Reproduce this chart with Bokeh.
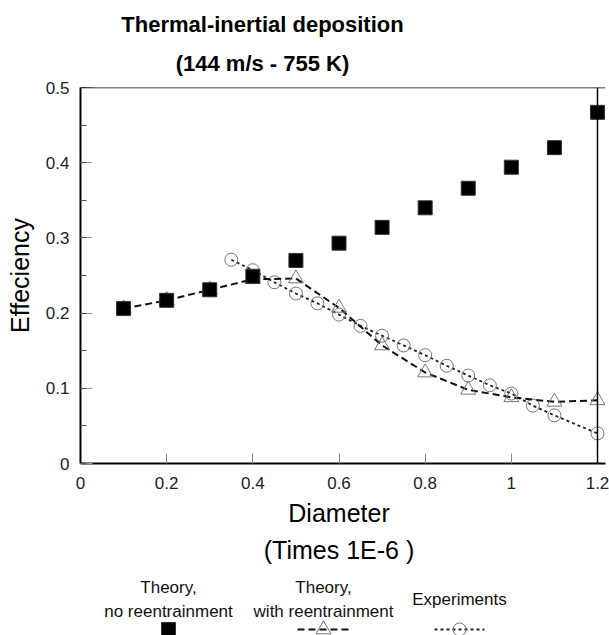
from bokeh.plotting import figure
from bokeh.layouts import column
from bokeh.models import Range1d, SingleIntervalTicker, CustomJSTickFormatter, Span, Label
from bokeh.embed import file_html
from bokeh.resources import INLINE

# ---------------- data ----------------
diam_theory = [0.1, 0.2, 0.3, 0.4, 0.5, 0.6, 0.7, 0.8, 0.9, 1.0, 1.1, 1.2]
eff_no_reent = [0.206, 0.217, 0.231, 0.249, 0.270, 0.293, 0.314, 0.340, 0.366, 0.394, 0.420, 0.467]
eff_reent = [0.206, 0.217, 0.231, 0.245, 0.246, 0.207, 0.157, 0.121, 0.098, 0.088, 0.082, 0.084]
diam_exp = [0.35, 0.40, 0.45, 0.50, 0.55, 0.60, 0.65, 0.70, 0.75, 0.80, 0.85, 0.90, 0.95, 1.00, 1.05, 1.10, 1.20]
eff_exp = [0.271, 0.257, 0.241, 0.226, 0.213, 0.198, 0.183, 0.170, 0.157, 0.144, 0.130, 0.117, 0.104, 0.093, 0.077, 0.064, 0.040]

title_lines = ["Thermal-inertial deposition", "(144 m/s - 755 K)"]
x_label_lines = ["Diameter", "(Times 1E-6 )"]
y_label = "Effeciency"
legend_names = [("Theory,", "no reentrainment"), ("Theory,", "with reentrainment"), ("Experiments",)]

FONT = "Liberation Sans"
W = 609
H0, H1, H2 = 78, 417, 140   # header / plot / footer heights (sum 635)

# frame geometry (pixels)
FL, FR_TICK, FT, FB = 80, 597, 87, 463
RB = 4                       # right border of the canvas beyond the frame
px_per_x = (FR_TICK - FL) / 1.2
x_end = (W - RB - FL) / px_per_x

# ---------------- header ----------------
def strip(height):
    f = figure(width=W, height=height, output_backend="svg", toolbar_location=None, title=None,
               x_range=Range1d(FL, W - RB), y_range=Range1d(height, 0),
               min_border=0, min_border_left=FL, min_border_right=RB,
               min_border_top=0, min_border_bottom=0)
    f.axis.visible = False
    f.grid.visible = False
    f.outline_line_color = None
    f.background_fill_color = "white"
    f.border_fill_color = "white"
    return f

head = strip(H0)
for txt, mid in zip(title_lines, (24, 63)):
    head.add_layout(Label(x=262, y=mid, text=txt, text_align="center", text_baseline="middle",
                          text_font=FONT, text_font_size="22px", text_font_style="bold",
                          text_color="black"))

# ---------------- main plot ----------------
p = figure(width=W, height=H1, output_backend="svg", toolbar_location=None, title=None,
           x_range=Range1d(0, x_end), y_range=Range1d(0, 0.5),
           min_border_left=FL, min_border_right=RB, min_border_top=FT - H0,
           min_border_bottom=H0 + H1 - FB)
p.background_fill_color = "white"
p.border_fill_color = "white"
p.outline_line_color = None
p.grid.visible = False

fmt = CustomJSTickFormatter(code="return String(Math.round(tick*100)/100);")
p.xaxis.ticker = SingleIntervalTicker(interval=0.2, num_minor_ticks=0)
p.yaxis.ticker = SingleIntervalTicker(interval=0.1, num_minor_ticks=2)
p.xaxis.formatter = fmt
p.yaxis.formatter = fmt
for ax in (p.xaxis, p.yaxis):
    ax.axis_line_color = "black"
    ax.axis_line_width = 2
    ax.major_tick_out = 0
    ax.minor_tick_out = 0
    ax.major_label_text_font = FONT
    ax.major_label_text_font_size = "17px"
    ax.major_label_text_color = "#222222"
p.xaxis.major_tick_in = 10
p.xaxis.major_tick_line_color = "#888888"
p.yaxis.major_tick_in = 12
p.yaxis.major_tick_line_color = "#999999"
p.yaxis.minor_tick_in = 6
p.yaxis.minor_tick_line_color = "#555555"
p.yaxis.major_label_standoff = 11
p.xaxis.major_label_standoff = 13
p.yaxis.axis_label = y_label
p.yaxis.axis_label_text_font = FONT
p.yaxis.axis_label_text_font_size = "25px"
p.yaxis.axis_label_text_font_style = "normal"
p.yaxis.axis_label_text_color = "black"
p.yaxis.axis_label_standoff = 9

# top and right frame borders
p.add_layout(Span(location=0.5, dimension="width", line_color="black", line_width=1.5))
p.add_layout(Span(location=1.2, dimension="height", line_color="black", line_width=1.5))

# series
p.line(diam_exp, eff_exp, line_color="#222222", line_width=1.8, line_dash="3 3")
p.scatter(diam_exp, eff_exp, marker="circle", size=13, fill_color=None,
          line_color="#777777", line_width=1)
p.line(diam_theory, eff_reent, line_color="#111111", line_width=2, line_dash="7 4")
p.scatter(diam_theory, eff_reent, marker="triangle", size=15, fill_color=None,
          line_color="#777777", line_width=1)
p.scatter(diam_theory, eff_no_reent, marker="square", size=14, fill_color="black",
          line_color="#333333", line_width=1)

# ---------------- footer: x label + legend ----------------
foot = strip(H2)
off = H0 + H1
def fy(img_y):
    return img_y - off

for txt, mid in zip(x_label_lines, (512, 549)):
    foot.add_layout(Label(x=338.5, y=fy(mid), text=txt, text_align="center",
                          text_baseline="middle", text_font=FONT, text_font_size="25px",
                          text_color="black"))

centers = [168, 323, 459]
leg_kw = dict(text_align="center", text_baseline="middle", text_font=FONT,
              text_font_size="17px", text_color="#111111")
foot.add_layout(Label(x=centers[0], y=fy(587), text=legend_names[0][0], **leg_kw))
foot.add_layout(Label(x=centers[0], y=fy(611), text=legend_names[0][1], **leg_kw))
foot.add_layout(Label(x=centers[1], y=fy(587), text=legend_names[1][0], **leg_kw))
foot.add_layout(Label(x=centers[1], y=fy(611), text=legend_names[1][1], **leg_kw))
foot.add_layout(Label(x=centers[2], y=fy(599), text=legend_names[2][0], **leg_kw))

sym_y = fy(629)
foot.scatter([centers[0]], [sym_y], marker="square", size=14, fill_color="black", line_color="#333333")
foot.line([centers[1] - 26, centers[1] + 26], [sym_y, sym_y], line_color="#111111",
          line_width=2, line_dash="7 4")
foot.scatter([centers[1]], [sym_y], marker="triangle", size=15, fill_color=None, line_color="#777777")
foot.line([centers[2] - 25, centers[2] + 25], [sym_y, sym_y], line_color="#222222",
          line_width=1.8, line_dash="3 3")
foot.scatter([centers[2]], [sym_y], marker="circle", size=13, fill_color=None, line_color="#777777")

layout = column(head, p, foot, spacing=0)
open("out.html", "w").write(file_html(layout, INLINE))
